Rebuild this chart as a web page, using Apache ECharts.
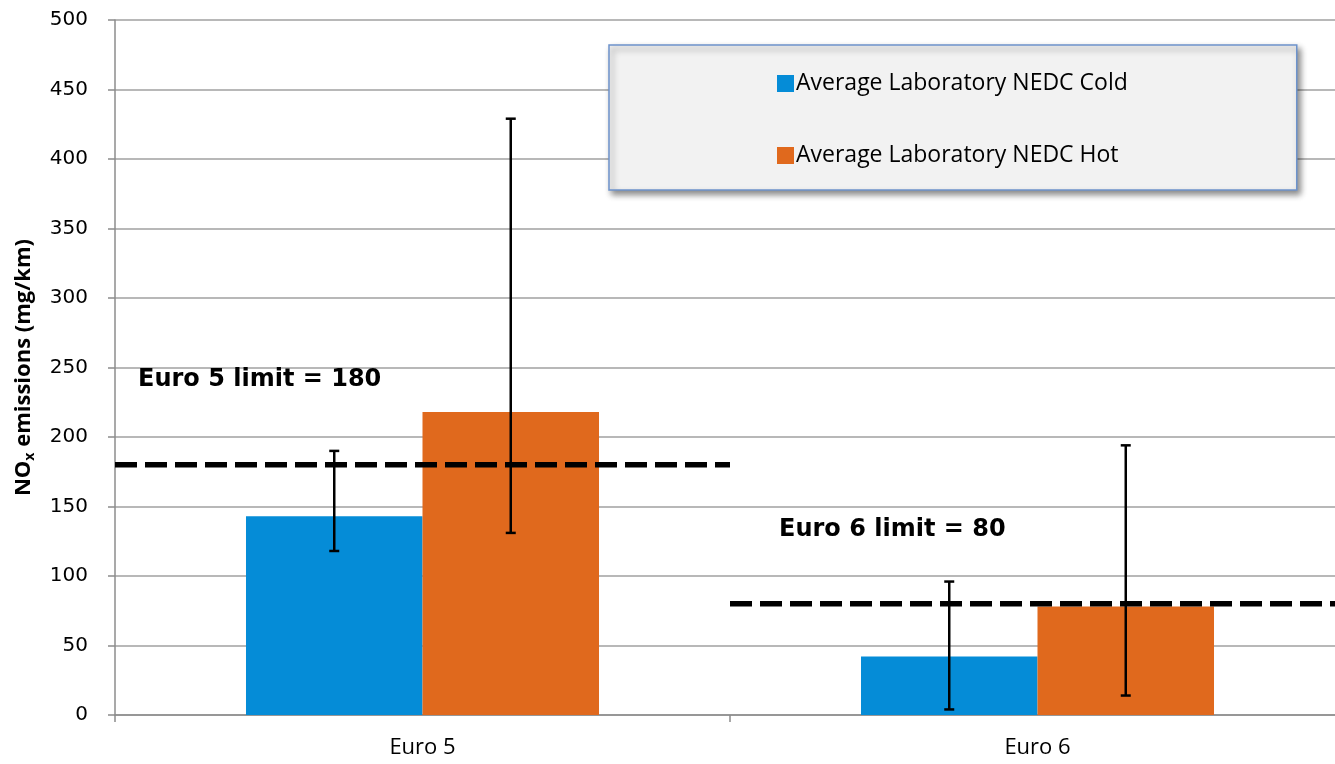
<!DOCTYPE html>
<html>
<head>
<meta charset="utf-8">
<script src="https://cdn.jsdelivr.net/npm/echarts@6/dist/echarts.min.js"></script>
<style>
html,body{margin:0;padding:0;background:#fff;overflow:hidden;}
#chart{width:1345px;height:764px;}
</style>
</head>
<body>
<div id="chart"></div>
<script>
// ---- data ----
var categories = ['Euro 5', 'Euro 6'];
var seriesNames = ['Average Laboratory NEDC Cold', 'Average Laboratory NEDC Hot'];
var coldValues = [143, 42];
var hotValues = [218, 78];
var coldErrLow = [118, 4];
var coldErrHigh = [190, 96];
var hotErrLow = [131, 14];
var hotErrHigh = [429, 194];
var limitValues = [180, 80];
var limitLabels = ['Euro 5 limit = 180', 'Euro 6 limit = 80'];
var limitLabelY = [241, 133];
var yTicks = [0, 50, 100, 150, 200, 250, 300, 350, 400, 450, 500];

// ---- styles ----
var BLUE = '#058cd7';
var ORANGE = '#e0691d';
var BAR_W_FRAC = 0.287;
var labelOffsetPx = [23, 49];

var chart = echarts.init(document.getElementById('chart'));

function errData(lo, hi) {
  return categories.map(function (c, i) { return [i, lo[i], hi[i]]; });
}

function errRender(sign) {
  return function (params, api) {
    var i = api.value(0);
    var band = api.size([1, 0])[0];
    var bw = band * BAR_W_FRAC;
    var c = api.coord([i, api.value(1)]);
    var x = c[0] + sign * bw / 2;
    var yLo = c[1];
    var yHi = api.coord([i, api.value(2)])[1];
    var st = { stroke: '#000', lineWidth: 2.5 };
    return {
      type: 'group',
      children: [
        { type: 'line', shape: { x1: x, y1: yLo, x2: x, y2: yHi }, style: st },
        { type: 'line', shape: { x1: x - 5, y1: yLo, x2: x + 5, y2: yLo }, style: st },
        { type: 'line', shape: { x1: x - 5, y1: yHi, x2: x + 5, y2: yHi }, style: st }
      ]
    };
  };
}

var limitData = categories.map(function (c, i) { return [i, limitValues[i], limitLabelY[i]]; });

var option = {
  animation: false,
  backgroundColor: '#fff',
  grid: { left: 115, top: 20, right: 0, bottom: 49, containLabel: false },
  legend: {
    orient: 'vertical',
    left: 609,
    top: 45,
    data: seriesNames,
    backgroundColor: '#f2f2f2',
    borderColor: '#6d93cc',
    borderWidth: 1.5,
    borderRadius: 0,
    shadowColor: 'rgba(0,0,0,0.45)',
    shadowBlur: 6,
    shadowOffsetX: 3,
    shadowOffsetY: 4,
    padding: [27, 169, 23, 168],
    itemGap: 49,
    itemWidth: 17,
    itemHeight: 17,
    icon: 'rect',
    textStyle: { fontFamily: 'Open Sans', fontSize: 23, lineHeight: 20, color: '#000', padding: [0, 0, 0, -3] },
    selectedMode: false
  },
  xAxis: {
    type: 'category',
    data: categories,
    axisLine: { lineStyle: { color: '#8c8c8c', width: 1.5 } },
    axisTick: { show: true, length: 7, alignWithLabel: false, lineStyle: { color: '#8c8c8c', width: 1.5 } },
    axisLabel: { fontFamily: 'Open Sans', fontSize: 22, color: '#000', margin: 22 },
    splitLine: { show: false }
  },
  yAxis: {
    type: 'value',
    min: 0,
    max: 500,
    interval: 50,
    name: '{a|NO}{s|x}{a| emissions (mg/km)}',
    nameLocation: 'middle',
    nameGap: 78,
    nameTextStyle: {
      rich: {
        a: { fontFamily: 'Open Sans', fontWeight: 'bold', fontSize: 22, color: '#000' },
        s: { fontFamily: 'Open Sans', fontWeight: 'bold', fontSize: 14, color: '#000', padding: [12, 0, 0, 0] }
      }
    },
    axisLine: { show: true, lineStyle: { color: '#8c8c8c', width: 1.5 } },
    axisTick: { show: true, length: 7, lineStyle: { color: '#8c8c8c', width: 1.5 } },
    axisLabel: {
      fontFamily: 'DejaVu Sans', fontSize: 20, color: '#000', margin: 27,
      formatter: function (v) { return yTicks.indexOf(v) >= 0 ? String(v) : ''; }
    },
    splitLine: { lineStyle: { color: '#a0a0a0', width: 1.5 } }
  },
  series: [
    {
      name: seriesNames[0], type: 'bar', data: coldValues,
      barWidth: (BAR_W_FRAC * 100) + '%', barGap: '0%',
      itemStyle: { color: BLUE },
      z: 2
    },
    {
      name: seriesNames[1], type: 'bar', data: hotValues,
      barWidth: (BAR_W_FRAC * 100) + '%', barGap: '0%',
      itemStyle: { color: ORANGE },
      z: 2
    },
    {
      type: 'custom', name: 'limits', data: limitData, z: 5,
      renderItem: function (params, api) {
        var i = api.value(0);
        var band = api.size([1, 0])[0];
        var c = api.coord([i, api.value(1)]);
        var x0 = c[0] - band / 2;
        var x1 = c[0] + band / 2;
        var ty = api.coord([i, api.value(2)])[1];
        return {
          type: 'group',
          children: [
            { type: 'line', shape: { x1: x0, y1: c[1], x2: x1, y2: c[1] },
              style: { stroke: '#000', lineWidth: 5.5, lineDash: [22, 8] } },
            { type: 'text', x: x0 + labelOffsetPx[i], y: ty,
              style: { text: limitLabels[i], fill: '#000', font: 'bold 24px "DejaVu Sans"', textVerticalAlign: 'middle', textAlign: 'left' } }
          ]
        };
      }
    },
    { type: 'custom', name: 'errCold', data: errData(coldErrLow, coldErrHigh), renderItem: errRender(-1), z: 6 },
    { type: 'custom', name: 'errHot', data: errData(hotErrLow, hotErrHigh), renderItem: errRender(1), z: 6 }
  ]
};
chart.setOption(option);
</script>
</body>
</html>
